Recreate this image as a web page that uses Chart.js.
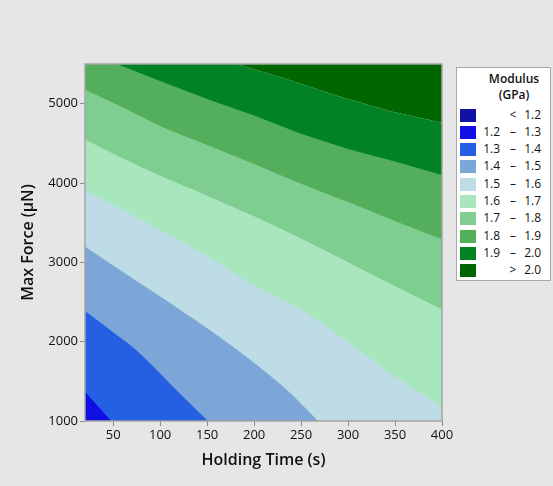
<!DOCTYPE html>
<html><head><meta charset="utf-8">
<script src="https://cdn.jsdelivr.net/npm/chart.js@4"></script>
<style>
html,body{margin:0;padding:0;background:#e6e6e6;}
#wrap{position:relative;width:553px;height:486px;overflow:hidden;}
canvas{position:absolute;left:0;top:0;}
#legend{position:absolute;left:456px;top:67px;width:95px;height:214px;background:#fff;border:1px solid #a8a8a8;box-sizing:border-box;font-family:'Open Sans',sans-serif;font-size:12px;color:#111;}
#legend .t{position:absolute;left:30px;width:54px;text-align:center;font-weight:600;line-height:16px;}
#legend .row{position:absolute;left:0;width:93px;height:14px;}
#legend .sw{position:absolute;left:3px;top:0;width:16px;height:13px;}
#legend .lo{position:absolute;right:50px;top:-2px;line-height:16px;text-align:right;}
#legend .da{position:absolute;left:50px;width:12px;top:-2px;line-height:16px;text-align:center;}
#legend .hi{position:absolute;right:9px;top:-2px;line-height:16px;text-align:right;}
</style></head>
<body>
<div id="wrap">
<canvas id="c" width="553" height="486"></canvas>
<div id="legend"></div>
</div>
<script>
// ---- data (Holding Time in s, Max Force in µN) ----
const holdingTimeTicks = [50, 100, 150, 200, 250, 300, 350, 400];
const maxForceTicks = [1000, 2000, 3000, 4000, 5000];
const holdingTimeRange = [20, 400];
const maxForceRange = [1000, 5500];

// contour boundaries (x = holding time, y = max force)
const contour13 = [[20,1370],[48,1000]];
const contour14 = [[20,2385],[50,2120],[75,1890],[100,1600],[125,1300],[151,1000]];
const contour15 = [[20,3201],[50,2960],[100,2570],[150,2170],[200,1735],[235,1390],[268,1000]];
const contour16 = [[20,3910],[50,3720],[100,3410],[150,3080],[200,2710],[250,2400],[300,2000],[350,1560],[400,1180]];
const contour17 = [[20,4548],[50,4370],[100,4090],[150,3840],[200,3580],[250,3300],[300,3000],[350,2700],[400,2410]];
const contour18 = [[20,5179],[50,5010],[100,4720],[150,4480],[200,4240],[250,3990],[300,3760],[350,3520],[400,3290]];
const contour19 = [[20,5500],[54,5500],[100,5285],[150,5060],[200,4850],[250,4620],[300,4430],[350,4270],[400,4100]];
const contour20 = [[20,5500],[181,5500],[236,5305],[290,5095],[345,4905],[400,4759]];

const contourLines = [contour13, contour14, contour15, contour16, contour17, contour18, contour19, contour20];

const bandLow  = [null, '1.2', '1.3', '1.4', '1.5', '1.6', '1.7', '1.8', '1.9', '2.0'];
const bandHigh = ['1.2', '1.3', '1.4', '1.5', '1.6', '1.7', '1.8', '1.9', '2.0', null];
const bandColors = ['#1111a3','#1010e4','#2560e4','#7ca6d8','#bedce6','#a8e6be','#80cd91','#53af5c','#008225','#006600'];

// ---- legend (HTML text) ----
const lg = document.getElementById('legend');
lg.innerHTML = '<div class="t" style="top:3px">Modulus</div><div class="t" style="top:19px">(GPa)</div>';
for (let i = 0; i < bandColors.length; i++) {
  const r = document.createElement('div');
  r.className = 'row';
  r.style.top = (40.5 + i * 17.3) + 'px';
  let lo, da, hi;
  if (bandLow[i] === null) { lo = ''; da = '&lt;'; hi = bandHigh[i]; }
  else if (bandHigh[i] === null) { lo = ''; da = '&gt;'; hi = bandLow[i]; }
  else { lo = bandLow[i]; da = '–'; hi = bandHigh[i]; }
  r.innerHTML = '<div class="sw" style="background:' + bandColors[i] + '"></div>' +
    '<span class="lo">' + lo + '</span><span class="da">' + da + '</span><span class="hi">' + hi + '</span>';
  lg.appendChild(r);
}

// ---- chart ----
Chart.defaults.font.family = "'Open Sans', sans-serif";
Chart.defaults.color = '#111';

const toPts = arr => arr.map(p => ({x: p[0], y: p[1]}));
const mk = (line, fill, color, smooth) => ({
  data: toPts(line),
  borderWidth: 0,
  borderColor: 'rgba(0,0,0,0)',
  pointRadius: 0,
  tension: 0,
  cubicInterpolationMode: smooth ? 'monotone' : 'default',
  fill: fill,
  backgroundColor: color
});
// boundaries that run along the top edge are drawn with straight segments
const datasets = contourLines.map((line, k) => mk(line, 'start', bandColors[k + 1], k < 6));
datasets.push(mk(contour20, 'end', bandColors[9], false));

const frame = {
  id: 'frame',
  afterDatasetsDraw(chart) {
    const {ctx, chartArea: a} = chart;
    ctx.save();
    ctx.strokeStyle = '#a5a5a5';
    ctx.lineWidth = 1.5;
    ctx.strokeRect(a.left, a.top, a.right - a.left, a.bottom - a.top);
    ctx.restore();
  }
};

new Chart(document.getElementById('c'), {
  type: 'line',
  data: { datasets },
  plugins: [frame],
  options: {
    responsive: false,
    animation: false,
    devicePixelRatio: 1,
    layout: { padding: { top: 64, right: 111, bottom: 0, left: 0 } },
    plugins: { legend: { display: false }, tooltip: { enabled: false } },
    scales: {
      x: {
        type: 'linear',
        min: holdingTimeRange[0], max: holdingTimeRange[1],
        afterBuildTicks: s => { s.ticks = holdingTimeTicks.map(v => ({value: v})); },
        afterFit: s => { s.height = 65; },
        ticks: { font: { size: 13 }, color: '#111', padding: 1, maxRotation: 0, callback: v => String(v) },
        grid: { display: true, drawOnChartArea: false, drawTicks: true, tickLength: 5, color: '#8c8c8c' },
        border: { display: false },
        title: { display: true, text: 'Holding Time (s)', font: { size: 16, weight: '600' }, color: '#111', padding: { top: 0, bottom: 16 } }
      },
      y: {
        type: 'linear',
        min: maxForceRange[0], max: maxForceRange[1],
        afterBuildTicks: s => { s.ticks = maxForceTicks.map(v => ({value: v})); },
        afterFit: s => { s.width = 85; },
        ticks: { font: { size: 13 }, color: '#111', padding: 2, callback: v => String(v) },
        grid: { display: true, drawOnChartArea: false, drawTicks: true, tickLength: 5, color: '#8c8c8c' },
        border: { display: false },
        title: { display: true, text: 'Max Force (µN)', font: { size: 16, weight: '600' }, color: '#111', padding: { top: 19, bottom: 0 } }
      }
    }
  }
});
</script>
</body></html>
